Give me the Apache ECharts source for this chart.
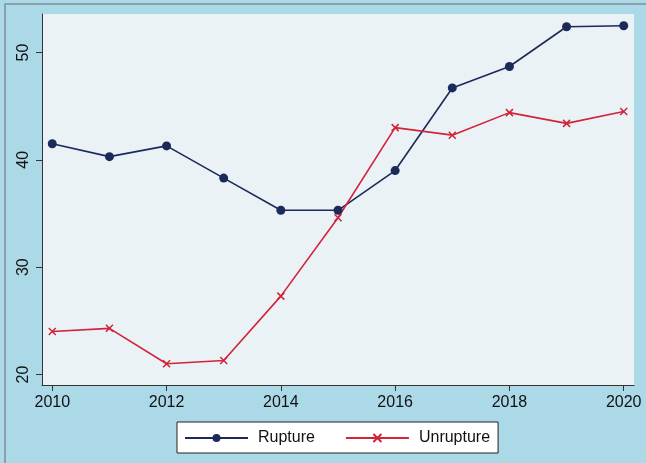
<!DOCTYPE html>
<html>
<head>
<meta charset="utf-8">
<script src="https://cdn.jsdelivr.net/npm/echarts@6/dist/echarts.min.js"></script>
<style>
html,body{margin:0;padding:0;background:#acd9e8;}
#c{width:646px;height:463px;}
</style>
</head>
<body>
<div id="c"></div>
<script>
var years = [2010, 2011, 2012, 2013, 2014, 2015, 2016, 2017, 2018, 2019, 2020];
var rupture = [41.5, 40.3, 41.3, 38.3, 35.3, 35.3, 39.0, 46.7, 48.7, 52.4, 52.5];
var unrupture = [24.0, 24.3, 21.0, 21.3, 27.3, 34.6, 43.0, 42.3, 44.4, 43.4, 44.5];
var xTicks = [2010, 2012, 2014, 2016, 2018, 2020];
var yTicks = [20, 30, 40, 50];
var seriesNames = ['Rupture', 'Unrupture'];

function pairs(vals) { return years.map(function (y, i) { return [y, vals[i]]; }); }

var font = 'Liberation Sans, Arial, Helvetica, sans-serif';
var chart = echarts.init(document.getElementById('c'), null, { renderer: 'canvas' });
chart.setOption({
  backgroundColor: '#acd9e8',
  animation: false,
  graphic: [{
    type: 'rect', z: -1,
    shape: { x: 5, y: 4, width: 800, height: 600 },
    style: { fill: 'none', stroke: '#7f8f95', lineWidth: 1.5 }
  }],
  grid: {
    left: 42, top: 14, right: 12, bottom: 78,
    show: true, backgroundColor: '#eaf2f6', borderWidth: 0
  },
  xAxis: {
    type: 'value', min: 2009.82, max: 2020.18,
    axisLine: { show: true, lineStyle: { color: '#333', width: 1 } },
    axisTick: { show: true, length: 6, customValues: xTicks, lineStyle: { color: '#333' } },
    axisLabel: { customValues: xTicks, color: '#111', fontFamily: font, fontSize: 16, margin: 10,
      formatter: function (v) { return String(v); } },
    splitLine: { show: false }
  },
  yAxis: {
    type: 'value', min: 19.02, max: 53.59,
    axisLine: { show: true, lineStyle: { color: '#333', width: 1 } },
    axisTick: { show: true, length: 6, customValues: yTicks, lineStyle: { color: '#333' } },
    axisLabel: { customValues: yTicks, rotate: 90, color: '#111', fontFamily: font, fontSize: 16, margin: 10 },
    splitLine: { show: false }
  },
  legend: {
    left: 177, top: 422,
    padding: [8, 8, 7, 7],
    backgroundColor: '#ffffff', borderColor: '#222', borderWidth: 1, borderRadius: 0,
    itemWidth: 63, itemHeight: 10, itemGap: 30,
    textStyle: { fontFamily: font, fontSize: 16, color: '#111', padding: [0, 0, 0, 5] },
    data: seriesNames
  },
  series: [{
    name: seriesNames[0], type: 'line', data: pairs(rupture),
    symbol: 'circle', symbolSize: 9,
    lineStyle: { color: '#1b2a5a', width: 1.6 },
    itemStyle: { color: '#1b2a5a' }
  }, {
    name: seriesNames[1], type: 'line', data: pairs(unrupture),
    symbol: 'path://M0,0L10,10M10,0L0,10', symbolSize: 7,
    lineStyle: { color: '#d2233b', width: 1.6 },
    itemStyle: { color: '#d2233b', borderColor: '#d2233b', borderWidth: 1.5 }
  }]
});
</script>
</body>
</html>
